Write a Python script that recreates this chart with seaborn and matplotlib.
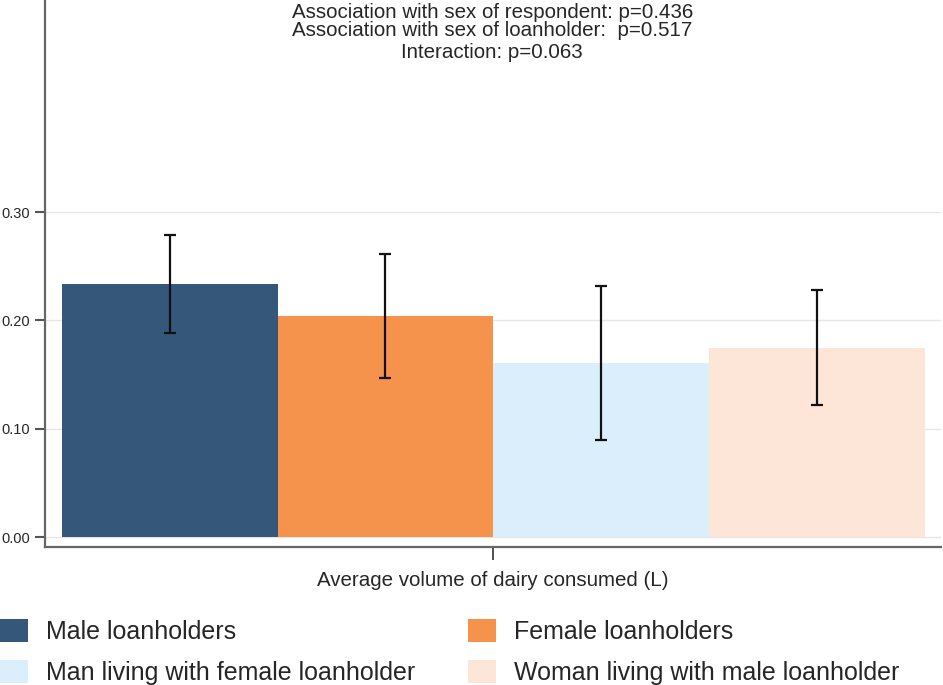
import pandas as pd
import seaborn as sns
import matplotlib.pyplot as plt
from matplotlib.patches import Patch

# Data
groups = ["Male loanholders", "Female loanholders",
          "Man living with female loanholder", "Woman living with male loanholder"]
means = [0.234, 0.204, 0.161, 0.175]
ci_low = [0.188, 0.147, 0.090, 0.122]
ci_high = [0.279, 0.261, 0.232, 0.228]
colors = ["#34577A", "#F5924C", "#DAEEFB", "#FDE6D8"]
outcome = "Average volume of dairy consumed (L)"
yticks = [0.0, 0.1, 0.2, 0.3]
notes = ["Association with sex of respondent: p=0.436",
         "Association with sex of loanholder:  p=0.517",
         "Interaction: p=0.063"]

df = pd.DataFrame({"outcome": outcome, "group": groups, "mean": means})

sns.set_style("white")
plt.rcParams["font.family"] = ["Liberation Sans", "DejaVu Sans"]

W, H = 943, 685
fig = plt.figure(figsize=(W / 100, H / 100), dpi=100)
ax = fig.add_axes([0.048, 0.2015, 0.95, 0.7985])

sns.barplot(data=df, x="outcome", y="mean", hue="group", hue_order=groups,
            palette=colors, errorbar=None, width=0.963, saturation=1,
            linewidth=0, legend=False, ax=ax)

# Error bars at bar centres
for patch, lo, hi, m in zip(ax.patches, ci_low, ci_high, means):
    xc = patch.get_x() + patch.get_width() / 2
    ax.errorbar(xc, m, yerr=[[m - lo], [hi - m]], fmt="none", ecolor="#111111",
                elinewidth=1.6, capsize=4, capthick=1.6, zorder=5)

ax.set_xlim(-0.5, 0.5)
ax.set_ylim(-0.0092, 0.496)
ax.set_yticks(yticks)
ax.set_yticklabels([f"{t:.2f}" for t in yticks], fontsize=10.5)
ax.yaxis.grid(True, color="#e6e6e6", linewidth=1)
ax.set_axisbelow(True)
ax.tick_params(axis="y", length=7, width=1.5, color="#555555", pad=4, left=True)
ax.tick_params(axis="x", length=9, width=1.2, color="#333333", bottom=True, labelbottom=False)
ax.set_xlabel(outcome, fontsize=14.8, labelpad=8)
ax.set_ylabel("")
for side in ["top", "right"]:
    ax.spines[side].set_visible(False)
for side in ["left", "bottom"]:
    ax.spines[side].set_color("#666666")
    ax.spines[side].set_linewidth(1.6)

# Notes at top
for txt, ypx in zip(notes, [12, 30, 52]):
    fig.text(0.522, 1 - ypx / H, txt, ha="center", va="center", fontsize=14.8)

# Legend: two columns placed separately, row by row
handles = [Patch(facecolor=c, edgecolor="none") for c in colors]
leg_kw = dict(loc="upper left", frameon=False, fontsize=18, borderpad=0,
              borderaxespad=0, handlelength=1.12, handleheight=1.04,
              handletextpad=0.72, labelspacing=0.62)
fig.legend([handles[0], handles[2]], [groups[0], groups[2]],
           bbox_to_anchor=(0 / W, 1 - 619 / H), **leg_kw)
fig.legend([handles[1], handles[3]], [groups[1], groups[3]],
           bbox_to_anchor=(468 / W, 1 - 619 / H), **leg_kw)

fig.savefig("out.png", dpi=100)
